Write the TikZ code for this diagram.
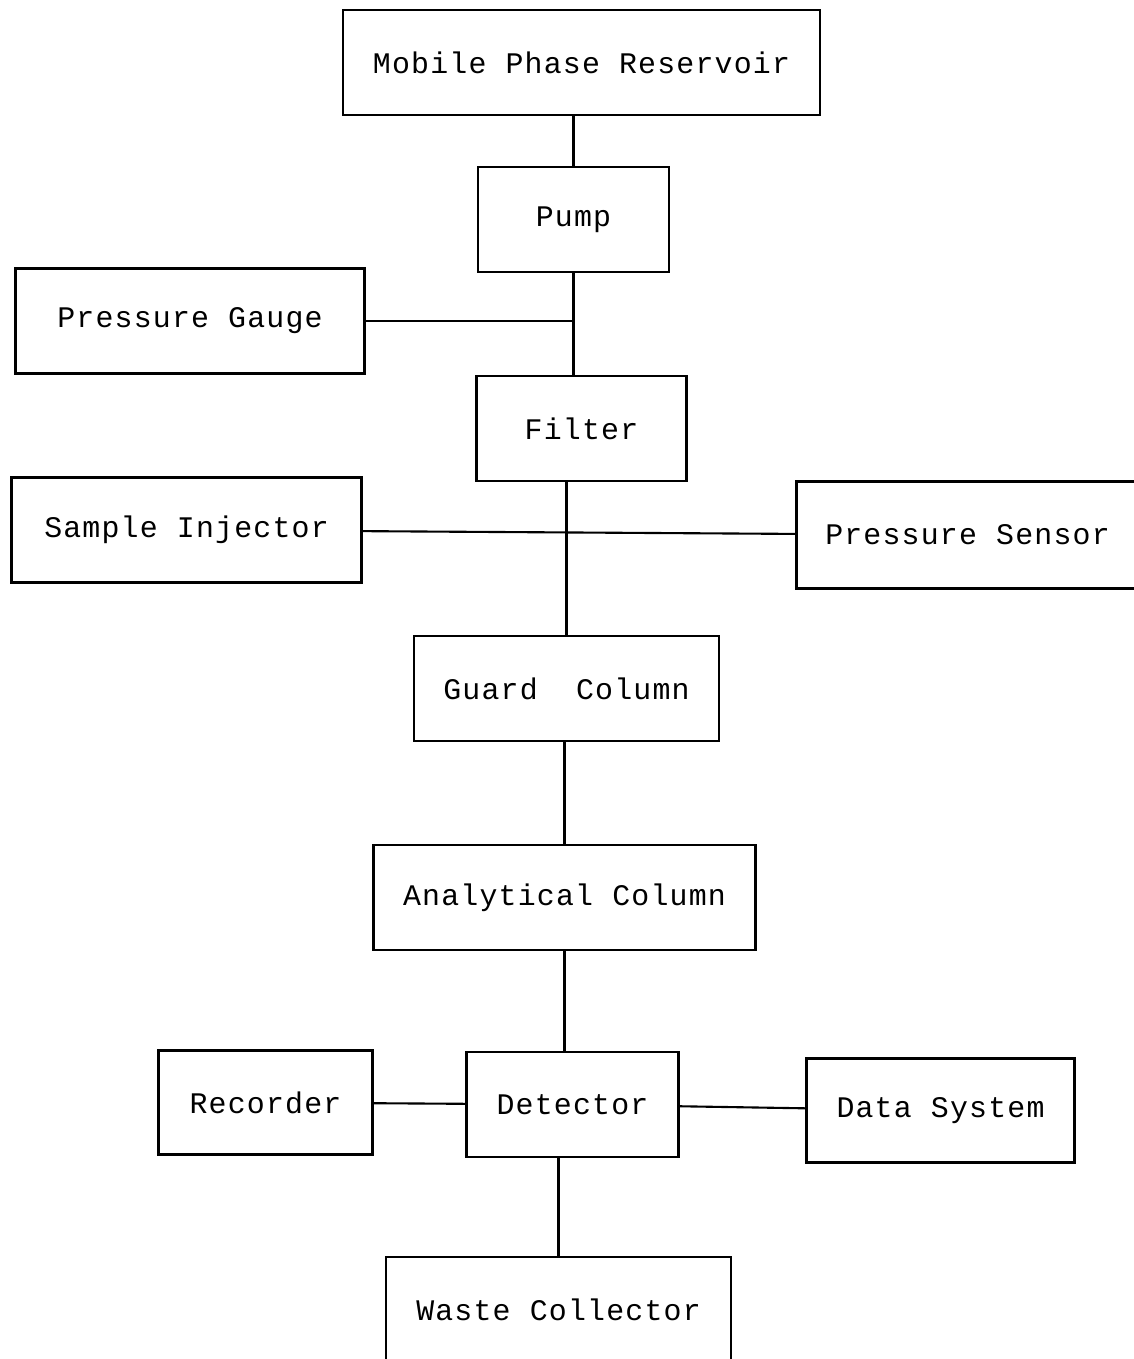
\documentclass[tikz,border=0pt]{standalone}
\usepackage{fontspec}
\setmonofont[LetterSpace=4]{Liberation Mono}
\usetikzlibrary{positioning}

\begin{document}
\begin{tikzpicture}[box/.style={draw,line width=0.6pt,minimum height=1.05cm,inner sep=0pt,outer sep=0pt,font=\ttfamily\fontsize{8.5}{10}\selectfont},
   link/.style={line width=0.6pt}]
\useasboundingbox (0,0) rectangle (11.33,-13.59);

% main flow path
\node(res)[box,minimum width=4.77cm] at (5.815,-0.625){Mobile Phase Reservoir};
\node(pump)[box,minimum width=1.91cm,xshift=-0.08cm,below=0.52cm of res]{Pump};
\node(filter)[box,minimum width=2.10cm,xshift=0.08cm,below=1.04cm of pump]{Filter};
\node(guard)[box,minimum width=3.05cm,xshift=-0.15cm,below=1.55cm of filter]{Guard\ \ Column};
\node(anal)[box,minimum width=3.82cm,xshift=-0.02cm,below=1.04cm of guard]{Analytical Column};
\node(det)[box,minimum width=2.12cm,xshift=0.08cm,below=1.02cm of anal]{Detector};
\node(waste)[box,minimum width=3.45cm,xshift=-0.14cm,below=1.00cm of det]{Waste Collector};

% side units
\coordinate(j1) at ([yshift=-0.49cm]pump.south);
\coordinate(j2) at ([yshift=1.06cm]guard.north);
\node(gauge)[box,minimum width=3.49cm,left=2.09cm of j1]{Pressure Gauge};
\node(inj)[box,minimum width=3.50cm,left=2.05cm of j2]{Sample Injector};
\node(sens)[box,minimum width=3.42cm,minimum height=1.07cm,yshift=-0.05cm,right=2.30cm of j2]{Pressure Sensor};
\node(rec)[box,minimum width=2.14cm,minimum height=1.04cm,yshift=0.02cm,left=0.94cm of det]{Recorder};
\node(data)[box,minimum width=2.68cm,minimum height=1.04cm,yshift=-0.06cm,right=1.28cm of det]{Data System};

% tubing and signal lines
\draw[link] (pump.north) -- (pump.north |- res.south);
\draw[link] (pump) -- (pump |- filter.north);
\draw[link] (gauge) -- (j1);
\draw[link] (guard) -- (guard |- filter.south);
\draw[link] (inj) -- (sens);
\draw[link] (anal) -- (anal |- guard.south);
\draw[link] (anal) -- (anal |- det.north);
\draw[link] (waste) -- (waste |- det.south);
\draw[link] (rec) -- (det);
\draw[link] (det) -- (data);
\end{tikzpicture}
\end{document}
